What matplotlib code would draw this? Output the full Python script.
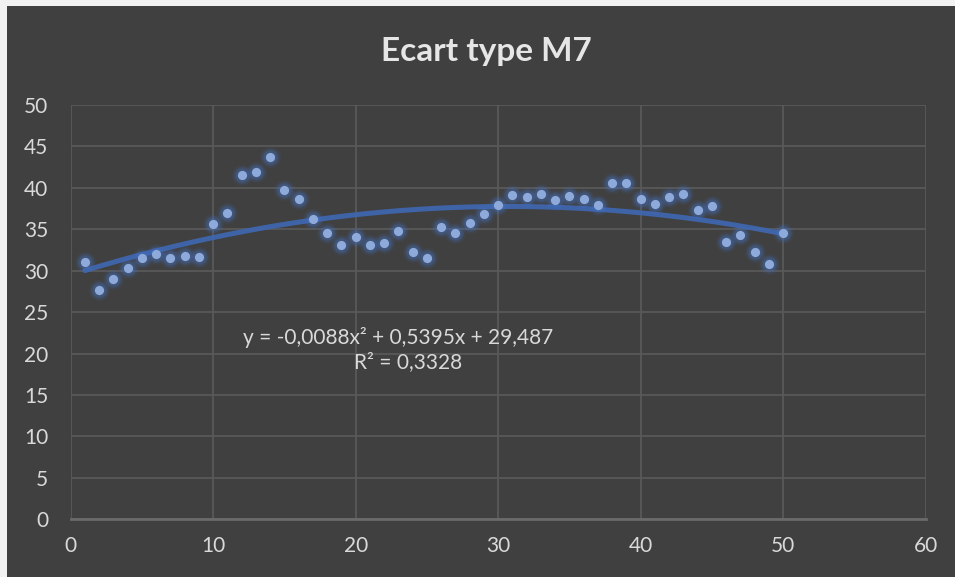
import numpy as np
import matplotlib.pyplot as plt

# Ecart type par échantillon (M7)
echantillon = list(range(1, 51))
ecart_type = [31.0, 27.7, 29.0, 30.3, 31.5, 32.0, 31.5, 31.8, 31.6, 35.6,
              37.0, 41.5, 41.9, 43.7, 39.8, 38.6, 36.2, 34.5, 33.1, 34.1,
              33.1, 33.4, 34.8, 32.2, 31.5, 35.3, 34.6, 35.7, 36.8, 37.9,
              39.1, 38.9, 39.2, 38.5, 39.0, 38.6, 37.9, 40.6, 40.6, 38.7,
              38.1, 38.9, 39.2, 37.3, 37.8, 33.5, 34.3, 32.2, 30.8, 34.6]

# Courbe de tendance polynomiale (ordre 2)
coef = [-0.0088, 0.5395, 29.487]
r2 = 0.3328

x_ticks = [0, 10, 20, 30, 40, 50, 60]
y_ticks = [0, 5, 10, 15, 20, 25, 30, 35, 40, 45, 50]

fond = "#404040"
texte = "#d9d9d9"
grille = "#595959"

plt.rcParams["font.family"] = ["Lato", "DejaVu Sans"]

fig = plt.figure(figsize=(9.55, 5.77), dpi=100, facecolor="#f2f2f2")
# panneau sombre du graphique
fig.patches.append(plt.Rectangle((7 / 955, 0), 1, 1 - 6 / 577, transform=fig.transFigure,
                                 facecolor=fond, edgecolor="none", zorder=-10))

ax = fig.add_axes([70.6 / 955, 1 - 519.3 / 577, (925.7 - 70.6) / 955, (519.3 - 105) / 577])
ax.set_facecolor(fond)
ax.set_xlim(0, 60)
ax.set_ylim(0, 50)
ax.set_xticks(x_ticks)
ax.set_yticks(y_ticks)
ax.grid(True, color=grille, linewidth=1.3)
ax.set_axisbelow(True)
for s in ["top", "right", "left"]:
    ax.spines[s].set_visible(False)
ax.spines["bottom"].set_color("#6a6a6a")
ax.spines["bottom"].set_linewidth(2)
ax.tick_params(length=0, colors=texte, labelsize=15)
ax.tick_params(axis="y", pad=16)
ax.tick_params(axis="x", pad=12)

# tendance
xt = np.linspace(min(echantillon), max(echantillon), 200)
yt = np.polyval(coef, xt)
ax.plot(xt, yt, color="#3f66ad", linewidth=3.6, solid_capstyle="round", zorder=3, alpha=0.95)

# points avec halo
for taille, a in [(220, 0.10), (150, 0.16), (100, 0.25)]:
    ax.scatter(echantillon, ecart_type, s=taille, color="#4472c4", alpha=a,
               linewidths=0, zorder=4)
ax.scatter(echantillon, ecart_type, s=44, color="#8eaadb", linewidths=0, zorder=5)

eq = "y = {:.4f}x² + {:.4f}x + {:.3f}".format(coef[0], coef[1], coef[2]).replace(".", ",")
ax.text(23.0, 22.0, eq.replace("+ -", "- "), color=texte, fontsize=15,
        ha="center", va="center", zorder=6)
ax.text(23.7, 19.0, "R² = {:.4f}".format(r2).replace(".", ","), color=texte,
        fontsize=15, ha="center", va="center", zorder=6)

fig.text(486 / 955, 1 - 52 / 577, "Ecart type M7", color="#e6e6e6", fontsize=24,
         fontweight="bold", ha="center", va="center")

fig.savefig("out.png", dpi=100, facecolor=fig.get_facecolor())
